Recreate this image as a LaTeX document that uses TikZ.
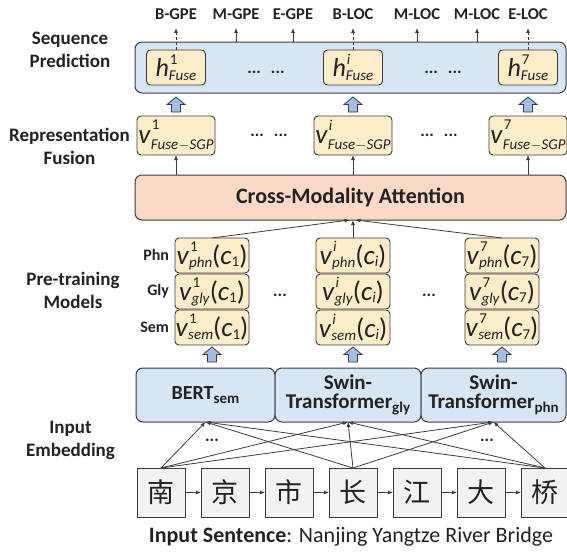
\documentclass[tikz,border=0pt]{standalone}
\usepackage{amsmath}
\usepackage{fontspec}
\setmainfont{Carlito}
\newfontfamily\cjkfont{Noto Sans CJK SC}
\usetikzlibrary{arrows.meta}
\definecolor{edgec}{HTML}{3C3C3C}
\definecolor{txt}{HTML}{222222}
\definecolor{ybg}{HTML}{FDEDC8}
\definecolor{bbg}{HTML}{D6E6F4}
\definecolor{obg}{HTML}{FAD9C7}
\definecolor{gbg}{HTML}{F2F2F2}
\definecolor{abg}{HTML}{A3BEE4}
\newcommand{\fsz}[2]{\fontsize{#1}{#2}\selectfont}
\newcommand{\msub}[1]{\raisebox{-3.5pt}{\fsz{15}{15}#1}}
% superscript / subscript pair: sup, sub, raise, lower
\newcommand{\supsub}[4]{{\fsz{15}{15}\rlap{\raisebox{#3}{\kern1pt #1}}\raisebox{-#4}{#2}}}
\newcommand{\hsym}[1]{\textit{h}\supsub{#1}{\textit{Fuse}}{12pt}{3.5pt}}
\newcommand{\fsym}[1]{\textit{v}\supsub{#1}{\textit{Fuse}$-$\textit{SGP}}{13.5pt}{6pt}}
\newcommand{\csym}[3]{\textit{v}\supsub{#1}{\textit{#2}}{13pt}{3pt}(\textit{c}\raisebox{-2.5pt}{\fsz{15}{15}#3})}
\begin{document}
\begin{tikzpicture}[x=1pt,y=-1pt,
  every node/.style={inner sep=0pt, outer sep=0pt, text=txt},
  lab/.style={font=\fsz{16.5}{20}\bfseries},
  side/.style={font=\fsz{19}{23}\bfseries, align=center},
  rowlab/.style={font=\fsz{16}{19}\bfseries, anchor=east},
  dots/.style={font=\fsz{17}{19}\bfseries},
  ybox/.style={draw=edgec, fill=ybg, line width=0.9pt, rounded corners=4pt, font=\fsz{27}{30}},
  hbox/.style={ybox, minimum width=59pt, minimum height=35pt, font=\fsz{26}{30}},
  fbox/.style={ybox, minimum width=78pt, minimum height=39pt},
  vbox/.style={ybox, minimum width=74pt, minimum height=35pt},
  panel/.style={draw=edgec, line width=1pt, rounded corners=7pt},
  mbox/.style={draw=edgec, fill=bbg, line width=1pt, rounded corners=7pt, minimum height=54pt, font=\fsz{21}{19}\bfseries, align=center},
  cbox/.style={draw=edgec, fill=gbg, line width=1pt, minimum width=48pt, minimum height=49pt, font=\cjkfont\fsz{27}{30}},
  arr/.style={draw=edgec, line width=0.8pt, -{Latex[length=5pt,width=4pt]}},
  bigarr/.pic={\draw[fill=abg, draw=edgec, line width=0.8pt] (-4.5,7.5) -- (-4.5,0) -- (-9,0) -- (0,-7.5) -- (9,0) -- (4.5,0) -- (4.5,7.5) -- cycle;}
]
\useasboundingbox (0,0) rectangle (567,554);

% ---------- top labels ----------
\foreach \n/\x/\t in {t1/176/B-GPE, t2/236/M-GPE, t3/293/E-GPE, t4/353/B-LOC, t5/417/M-LOC, t6/477/M-LOC, t7/528/E-LOC}
  \node[lab] (\n) at (\x,14) {\t};

% ---------- left labels ----------
\node[side] (L1) at (70,49.5) {Sequence\\Prediction};
\node[side] (L2) at (69.5,146) {Representation\\Fusion};
\node[side] (L3) at (73,290) {Pre-training\\Models};
\node[side] (L4) at (70.5,440) {Input\\Embedding};

% ---------- sequence prediction ----------
\node[panel, fill=bbg, minimum width=431pt, minimum height=51pt] (sp) at (350.5,67.5) {};
\node[hbox] (h1) at (176,67.5) {\hsym{1}};
\node[hbox] (hi) at (353,67.5) {\hsym{\textit{i}}};
\node[hbox] (h7) at (528,67.5) {\hsym{7}};
\node[dots] (d1) at (266,72) {...\hspace{10pt}...};
\node[dots] (d2) at (443,72) {...\hspace{10pt}...};

\draw[arr, densely dashed, shorten >=8.5pt] (h1.north) -- (t1.south);
\draw[arr, densely dashed, shorten >=8.5pt] (hi.north) -- (t4.south);
\draw[arr, densely dashed, shorten >=8.5pt] (h7.north) -- (t7.south);
\foreach \n in {t2,t3,t5,t6}
  \draw[arr, shorten >=8.5pt] (\n.south |- sp.north) -- (\n.south);

\pic at (176,104.5) {bigarr};
\pic at (353,104.5) {bigarr};
\pic at (528,104.5) {bigarr};

% ---------- representation fusion ----------
\node[fbox] (f1) at (176,135.5) {\fsym{1}};
\node[fbox] (fi) at (353,135.5) {\fsym{\textit{i}}};
\node[fbox] (f7) at (528,135.5) {\fsym{7}};
\node[dots] (d3) at (269,135) {...\hspace{10pt}...};
\node[dots] (d4) at (439,135) {...\hspace{10pt}...};

% ---------- cross-modality attention ----------
\node[panel, fill=obg, minimum width=431pt, minimum height=45pt, font=\fsz{22}{26}\bfseries] (cma) at (350.5,197.5) {Cross-Modality Attention};
\foreach \n in {f1,fi,f7}
  \draw[arr] (\n.south |- cma.north) -- (\n.south);

% ---------- pre-training models ----------
\node[vbox] (p1) at (212,255.5) {\csym{1}{phn}{1}};
\node[vbox] (g1) at (212,291.5) {\csym{1}{gly}{1}};
\node[vbox] (s1) at (212,327.5) {\csym{1}{sem}{1}};
\node[vbox] (pi) at (353,255.5) {\csym{\textit{i}}{phn}{\textit{i}}};
\node[vbox] (gi) at (353,291.5) {\csym{\textit{i}}{gly}{\textit{i}}};
\node[vbox] (si) at (353,327.5) {\csym{\textit{i}}{sem}{\textit{i}}};
\node[vbox] (p7) at (502,255.5) {\csym{7}{phn}{7}};
\node[vbox] (g7) at (502,291.5) {\csym{7}{gly}{7}};
\node[vbox] (s7) at (502,327.5) {\csym{7}{sem}{7}};
\node[rowlab] (rp) at (169,255) {Phn};
\node[rowlab] (rg) at (169,291) {Gly};
\node[rowlab] (rs) at (169,327.5) {Sem};
\node[dots] (d5) at (280,295) {...};
\node[dots] (d6) at (429,295) {...};

\draw[arr] (p1.north) -- ([xshift=-1pt]cma.south);
\draw[arr] (pi.north) -- (pi.north |- cma.south);
\draw[arr] (p7.north) -- ([xshift=5pt]cma.south);

\pic at (212,354.5) {bigarr};
\pic at (353,354.5) {bigarr};
\pic at (502,354.5) {bigarr};

% ---------- encoders ----------
\node[mbox, minimum width=139pt, font=\fsz{20}{19}\bfseries] (bert) at (205.5,395) {BERT\msub{sem}};
\node[mbox, minimum width=146pt] (swg) at (348,395) {Swin-\\Transformer\msub{gly}};
\node[mbox, minimum width=145pt] (swp) at (493.5,395) {Swin-\\Transformer\msub{phn}};

% ---------- input characters ----------
\foreach \n/\k/\ch in {c1/0/南, c2/1/京, c3/2/市, c4/3/长, c5/4/江, c6/5/大, c7/6/桥}
  \node[cbox] (\n) at (161+64*\k,492.5) {\ch};
\foreach \a/\b in {c1/c2, c2/c3, c3/c4, c4/c5, c5/c6, c6/c7}
  \draw[arr] (\a.east) -- (\b.west);
\foreach \s in {c1,c4,c7}
  \foreach \t in {bert,swg,swp}
    \draw[arr] (\s.north) -- (\t.south);
\node[dots] (d7) at (212,440) {...};
\node[dots] (d8) at (487,440) {...};

\node[font=\fsz{22}{25}] (cap) at (351,537) {\textbf{Input Sentence}: Nanjing Yangtze River Bridge};
\end{tikzpicture}
\end{document}
